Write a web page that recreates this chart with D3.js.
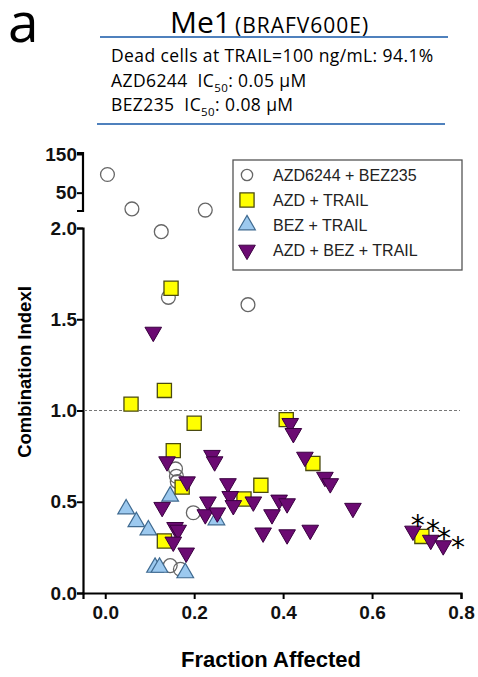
<!DOCTYPE html>
<html lang="en">
<head>
<meta charset="utf-8">
<title>Me1 combination index</title>
<script src="https://cdn.jsdelivr.net/npm/d3@7"></script>
<style>
  body { margin: 0; background: #fff; }
  svg { display: block; }
  text { white-space: pre; }
</style>
</head>
<body>
<script>
// series: [fraction affected, combination index]
const azdBez = [[0.005, 97], [0.06, 8], [0.225, 5], [0.126, 1.98], [0.142, 1.62], [0.321, 1.58],
  [0.158, 0.68], [0.16, 0.64], [0.162, 0.61], [0.198, 0.44], [0.146, 0.15], [0.169, 0.13]];
const azdTrail = [[0.148, 1.67], [0.133, 1.11], [0.058, 1.035], [0.407, 0.95], [0.2, 0.93],
  [0.153, 0.78], [0.173, 0.58], [0.133, 0.285], [0.35, 0.59], [0.312, 0.515], [0.467, 0.71], [0.712, 0.31]];
const bezTrail = [[0.047, 0.46], [0.07, 0.39], [0.097, 0.345], [0.146, 0.53], [0.112, 0.14],
  [0.122, 0.14], [0.18, 0.11], [0.25, 0.4]];
const azdBezTrail = [[0.108, 1.43], [0.139, 0.72], [0.184, 0.61], [0.128, 0.47], [0.157, 0.36],
  [0.164, 0.345], [0.153, 0.28], [0.182, 0.22], [0.24, 0.755], [0.246, 0.72], [0.231, 0.5],
  [0.225, 0.43], [0.252, 0.44], [0.276, 0.6], [0.281, 0.53], [0.288, 0.48], [0.333, 0.5],
  [0.375, 0.43], [0.391, 0.51], [0.409, 0.49], [0.355, 0.33], [0.409, 0.32], [0.461, 0.345],
  [0.449, 0.745], [0.416, 0.93], [0.423, 0.875], [0.494, 0.635], [0.506, 0.6], [0.557, 0.465],
  [0.692, 0.34], [0.732, 0.29], [0.76, 0.26]];
const stars = [[0.703, 0.415], [0.737, 0.383], [0.762, 0.34], [0.793, 0.29]];

const xTicks = [0, 0.2, 0.4, 0.6, 0.8];
const yTicks = [0, 0.5, 1.0, 1.5, 2.0];
const yTopTicks = [50, 150];
const legendLabels = ["AZD6244 + BEZ235", "AZD + TRAIL", "BEZ + TRAIL", "AZD + BEZ + TRAIL"];
const infoLines = ["Dead cells at TRAIL=100 ng/mL: 94.1%", "AZD6244  IC|50|: 0.05 \u03bcM", "BEZ235  IC|50|: 0.08 \u03bcM"];

const W = 478, H = 677;
const svg = d3.select("body").append("svg").attr("width", W).attr("height", H);

const x = d3.scaleLinear().domain([-0.05, 0.8]).range([83, 461]);
const y = d3.scaleLinear().domain([0, 2]).range([593, 228]);
const yTop = d3.scaleLinear().domain([0, 150]).range([212, 154]);
const yv = v => v > 2 ? yTop(v) : y(v);

// header
const headFont = "Open Sans, sans-serif";
svg.append("text").attr("x", 8).attr("y", 42).attr("font-family", headFont)
  .attr("font-size", 55).text("a");
const title = svg.append("text").attr("x", 170).attr("y", 33).attr("font-family", headFont);
title.append("tspan").attr("font-size", 30).text("Me1");
title.append("tspan").attr("font-size", 21).attr("dx", 4).attr("letter-spacing", 1).text("(BRAFV600E)");
svg.append("line").attr("x1", 100).attr("x2", 448).attr("y1", 37).attr("y2", 37)
  .attr("stroke", "#4f81bd").attr("stroke-width", 2);
svg.append("line").attr("x1", 97).attr("x2", 445).attr("y1", 124).attr("y2", 124)
  .attr("stroke", "#4f81bd").attr("stroke-width", 2);
infoLines.forEach((s, i) => {
  const t = svg.append("text").attr("x", 111).attr("y", 62 + i * 24.5)
    .attr("font-family", headFont).attr("font-size", 17.5).attr("letter-spacing", 0.4);
  s.split("|").forEach((part, j) => {
    const ts = t.append("tspan").text(part);
    if (j === 1) ts.attr("font-size", 11.5).attr("dy", 5);
    if (j === 2) ts.attr("dy", -5);
  });
});

// axes
const axisFont = "Liberation Sans, Arial, sans-serif";
const gx = svg.append("g").attr("transform", "translate(0,593)")
  .call(d3.axisBottom(x).tickValues(xTicks).tickFormat(d3.format(".1f")).tickSize(6).tickPadding(7));
const gy = svg.append("g").attr("transform", "translate(83,0)")
  .call(d3.axisLeft(y).tickValues(yTicks).tickFormat(d3.format(".1f")).tickSize(6).tickPadding(0));
const gyt = svg.append("g").attr("transform", "translate(83,0)")
  .call(d3.axisLeft(yTop).tickValues(yTopTicks).tickFormat(d3.format("d")).tickSize(6).tickPadding(0));
gyt.select(".domain").attr("d", "M-6,211H0V153H-6");
[gx, gy, gyt].forEach(g => {
  g.select(".domain").attr("stroke-width", 2.2);
  g.selectAll(".tick line").attr("stroke-width", 2);
  g.selectAll("text").attr("font-family", axisFont).attr("font-weight", "bold")
    .attr("font-size", 19).attr("fill", "#111");
});

svg.append("text").attr("transform", "translate(31,372) rotate(-90)").attr("text-anchor", "middle")
  .attr("font-family", axisFont).attr("font-weight", "bold").attr("font-size", 18.5)
  .text("Combination IndexI");
svg.append("text").attr("x", 271).attr("y", 667).attr("text-anchor", "middle")
  .attr("font-family", axisFont).attr("font-weight", "bold").attr("font-size", 22)
  .text("Fraction Affected");

// reference line at CI = 1
svg.append("line").attr("x1", 84).attr("x2", 460).attr("y1", y(1)).attr("y2", y(1))
  .attr("stroke", "#777").attr("stroke-width", 1.2).attr("stroke-dasharray", "3,2");

// markers
const sym = {
  circle: d3.symbol(d3.symbolCircle, 150)(),
  square: d3.symbol(d3.symbolSquare, 200)(),
  tri: d3.symbol(d3.symbolTriangle, 120)()
};
const styles = [
  { data: azdBez, d: sym.circle, rot: 0, fill: "none", stroke: "#666", sw: 1.3 },
  { data: bezTrail, d: sym.tri, rot: 0, fill: "#9cc9ef", stroke: "#3f6a90", sw: 1.2 },
  { data: azdTrail, d: sym.square, rot: 0, fill: "#ffff00", stroke: "#4a4a10", sw: 1.3 },
  { data: azdBezTrail, d: sym.tri, rot: 180, fill: "#6b0a72", stroke: "#3a0040", sw: 1 }
];
styles.forEach(s => {
  svg.append("g").selectAll("path").data(s.data).join("path")
    .attr("d", s.d)
    .attr("transform", d => `translate(${x(d[0])},${yv(d[1])}) rotate(${s.rot})`)
    .attr("fill", s.fill).attr("stroke", s.stroke).attr("stroke-width", s.sw);
});

svg.append("g").selectAll("text").data(stars).join("text")
  .attr("x", d => x(d[0])).attr("y", d => y(d[1])).attr("dy", "0.62em")
  .attr("text-anchor", "middle").attr("font-family", "DejaVu Sans, sans-serif").attr("font-size", 28)
  .text("*");

// legend
const lg = svg.append("g").attr("transform", "translate(233,160)");
lg.append("rect").attr("width", 229).attr("height", 110).attr("fill", "#fff")
  .attr("stroke", "#555").attr("stroke-width", 1.3);
legendLabels.forEach((lab, i) => {
  const s = styles[[0, 2, 1, 3][i]];
  const cy = 15 + i * 25;
  lg.append("path").attr("d", i === 0 ? d3.symbol(d3.symbolCircle, 100)() : s.d)
    .attr("transform", `translate(14,${cy}) rotate(${s.rot})`)
    .attr("fill", s.fill).attr("stroke", s.stroke).attr("stroke-width", s.sw);
  lg.append("text").attr("x", 40).attr("y", cy).attr("dy", "0.36em")
    .attr("font-family", axisFont).attr("font-size", 16).attr("fill", "#222").text(lab);
});
</script>
</body>
</html>
